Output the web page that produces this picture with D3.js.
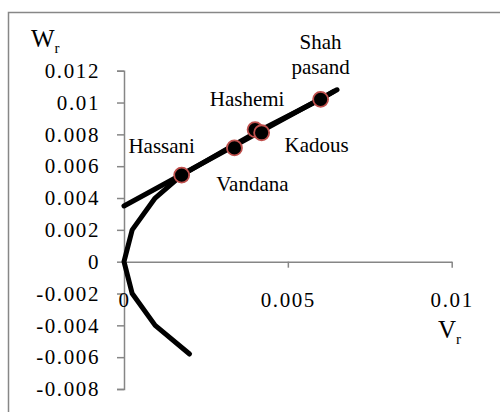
<!DOCTYPE html>
<html>
<head>
<meta charset="utf-8">
<script src="https://cdn.jsdelivr.net/npm/d3@7"></script>
<style>
  body { margin: 0; background: #fff; }
</style>
</head>
<body>
<div id="viz"></div>
<script>
// parabola-like curve (V, W)
let curveV = [0.0020, 0.00095, 0.00025, 0, 0.00025, 0.00095, 0.00176, 0.00320, 0.00410, 0.00600, 0.00640];
let curveW = [-0.0058, -0.004, -0.002, 0, 0.002, 0.004, 0.00544, 0.00715, 0.0082, 0.0102, 0.0107];

// straight line
let lineV = [0, 0.0065];
let lineW = [0.0035, 0.0108];

// named points
let names = ['Hassani', 'Vandana', 'Hashemi', 'Kadous', 'Shah pasand'];
let ptV = [0.00176, 0.00337, 0.0040, 0.0042, 0.0060];
let ptW = [0.00544, 0.00715, 0.0083, 0.0081, 0.0102];

let yTicks = [0.012, 0.01, 0.008, 0.006, 0.004, 0.002, 0, -0.002, -0.004, -0.006, -0.008];
let yLabels = ['0.012', '0.01', '0.008', '0.006', '0.004', '0.002', '0', '-0.002', '-0.004', '-0.006', '-0.008'];
let xTicks = [0, 0.005, 0.01];
let xLabels = ['0', '0.005', '0.01'];

let width = 500, height = 412,
    font = 'Liberation Serif';

let xScale = d3.scaleLinear().domain([0, 0.01]).range([124, 451.7]);
let yScale = d3.scaleLinear().domain([-0.008, 0.012]).range([389, 70.7]);

let svg = d3.select('#viz').append('svg')
  .attr('width', width)
  .attr('height', height)
  .attr('font-family', font);

// outer frame
svg.append('rect')
  .attr('x', 8.5).attr('y', 12.5)
  .attr('width', 520).attr('height', 420)
  .attr('fill', 'none')
  .attr('stroke', '#878787')
  .attr('stroke-width', 1.5);

// y axis
let yAxis = d3.axisLeft(yScale)
  .tickValues(yTicks)
  .tickSize(7)
  .tickSizeOuter(7)
  .tickPadding(17)
  .tickFormat(function(d, i) { return yLabels[i]; });

let yGuide = svg.append('g')
  .attr('transform', 'translate(' + xScale(0) + ',0)')
  .call(yAxis)
  .attr('font-family', font)
  .attr('font-size', 21);
yGuide.selectAll('path, line').attr('stroke', '#868686').attr('stroke-width', 1.5);
yGuide.selectAll('text')
  .attr('font-family', font)
  .attr('font-size', 21)
  .attr('letter-spacing', 1.6)
  .attr('fill', '#000');

// x axis
let xAxis = d3.axisBottom(xScale)
  .tickValues(xTicks)
  .tickSize(6)
  .tickSizeOuter(0)
  .tickPadding(24)
  .tickFormat(function(d, i) { return xLabels[i]; });

let xGuide = svg.append('g')
  .attr('transform', 'translate(0,' + yScale(0) + ')')
  .call(xAxis)
  .attr('font-family', font)
  .attr('font-size', 21);
xGuide.selectAll('path, line').attr('stroke', '#868686').attr('stroke-width', 1.5);
xGuide.selectAll('.tick').filter(function(d) { return d === 0; }).select('line').remove();
xGuide.selectAll('text')
  .attr('font-family', font)
  .attr('font-size', 21)
  .attr('letter-spacing', 1.6)
  .attr('fill', '#000');

// axis titles
let wTitle = svg.append('text').attr('x', 31).attr('y', 47)
  .attr('font-family', font).attr('font-size', 25);
wTitle.append('tspan').text('W');
wTitle.append('tspan').attr('dy', 6).attr('font-size', 15).text('r');

let vTitle = svg.append('text').attr('x', 438).attr('y', 338)
  .attr('font-family', font).attr('font-size', 25);
vTitle.append('tspan').text('V');
vTitle.append('tspan').attr('dy', 6).attr('font-size', 15).text('r');

// lines
let lineGen = d3.line()
  .x(function(d) { return xScale(d[0]); })
  .y(function(d) { return yScale(d[1]); });

svg.append('path')
  .datum(curveV.map(function(v, i) { return [v, curveW[i]]; }))
  .attr('d', lineGen)
  .attr('fill', 'none')
  .attr('stroke', '#000')
  .attr('stroke-width', 5)
  .attr('stroke-linecap', 'round')
  .attr('stroke-linejoin', 'round');

svg.append('path')
  .datum(lineV.map(function(v, i) { return [v, lineW[i]]; }))
  .attr('d', lineGen)
  .attr('fill', 'none')
  .attr('stroke', '#000')
  .attr('stroke-width', 5)
  .attr('stroke-linecap', 'round');

// markers
svg.selectAll('circle.pt')
  .data(names)
  .enter().append('circle')
  .attr('class', 'pt')
  .attr('cx', function(d, i) { return xScale(ptV[i]); })
  .attr('cy', function(d, i) { return yScale(ptW[i]); })
  .attr('r', 7.5)
  .attr('fill', '#000')
  .attr('stroke', '#c0504d')
  .attr('stroke-width', 1.8);

// point labels (offsets in px from the marker)
let labelDx = [-20, 18, -8, 55, 0];
let labelDy = [-22, 43, -24, 19, -50];

svg.selectAll('text.lab')
  .data(names)
  .enter().append('text')
  .attr('class', 'lab')
  .attr('text-anchor', 'middle')
  .attr('font-family', font)
  .attr('font-size', 21)
  .attr('x', function(d, i) { return xScale(ptV[i]) + labelDx[i]; })
  .attr('y', function(d, i) { return yScale(ptW[i]) + labelDy[i]; })
  .each(function(d) {
    let parts = d.split(' ');
    let t = d3.select(this);
    parts.forEach(function(p, j) {
      t.append('tspan')
        .attr('x', t.attr('x'))
        .attr('dy', j === 0 ? 0 : 25)
        .text(p);
    });
  });
</script>
</body>
</html>
